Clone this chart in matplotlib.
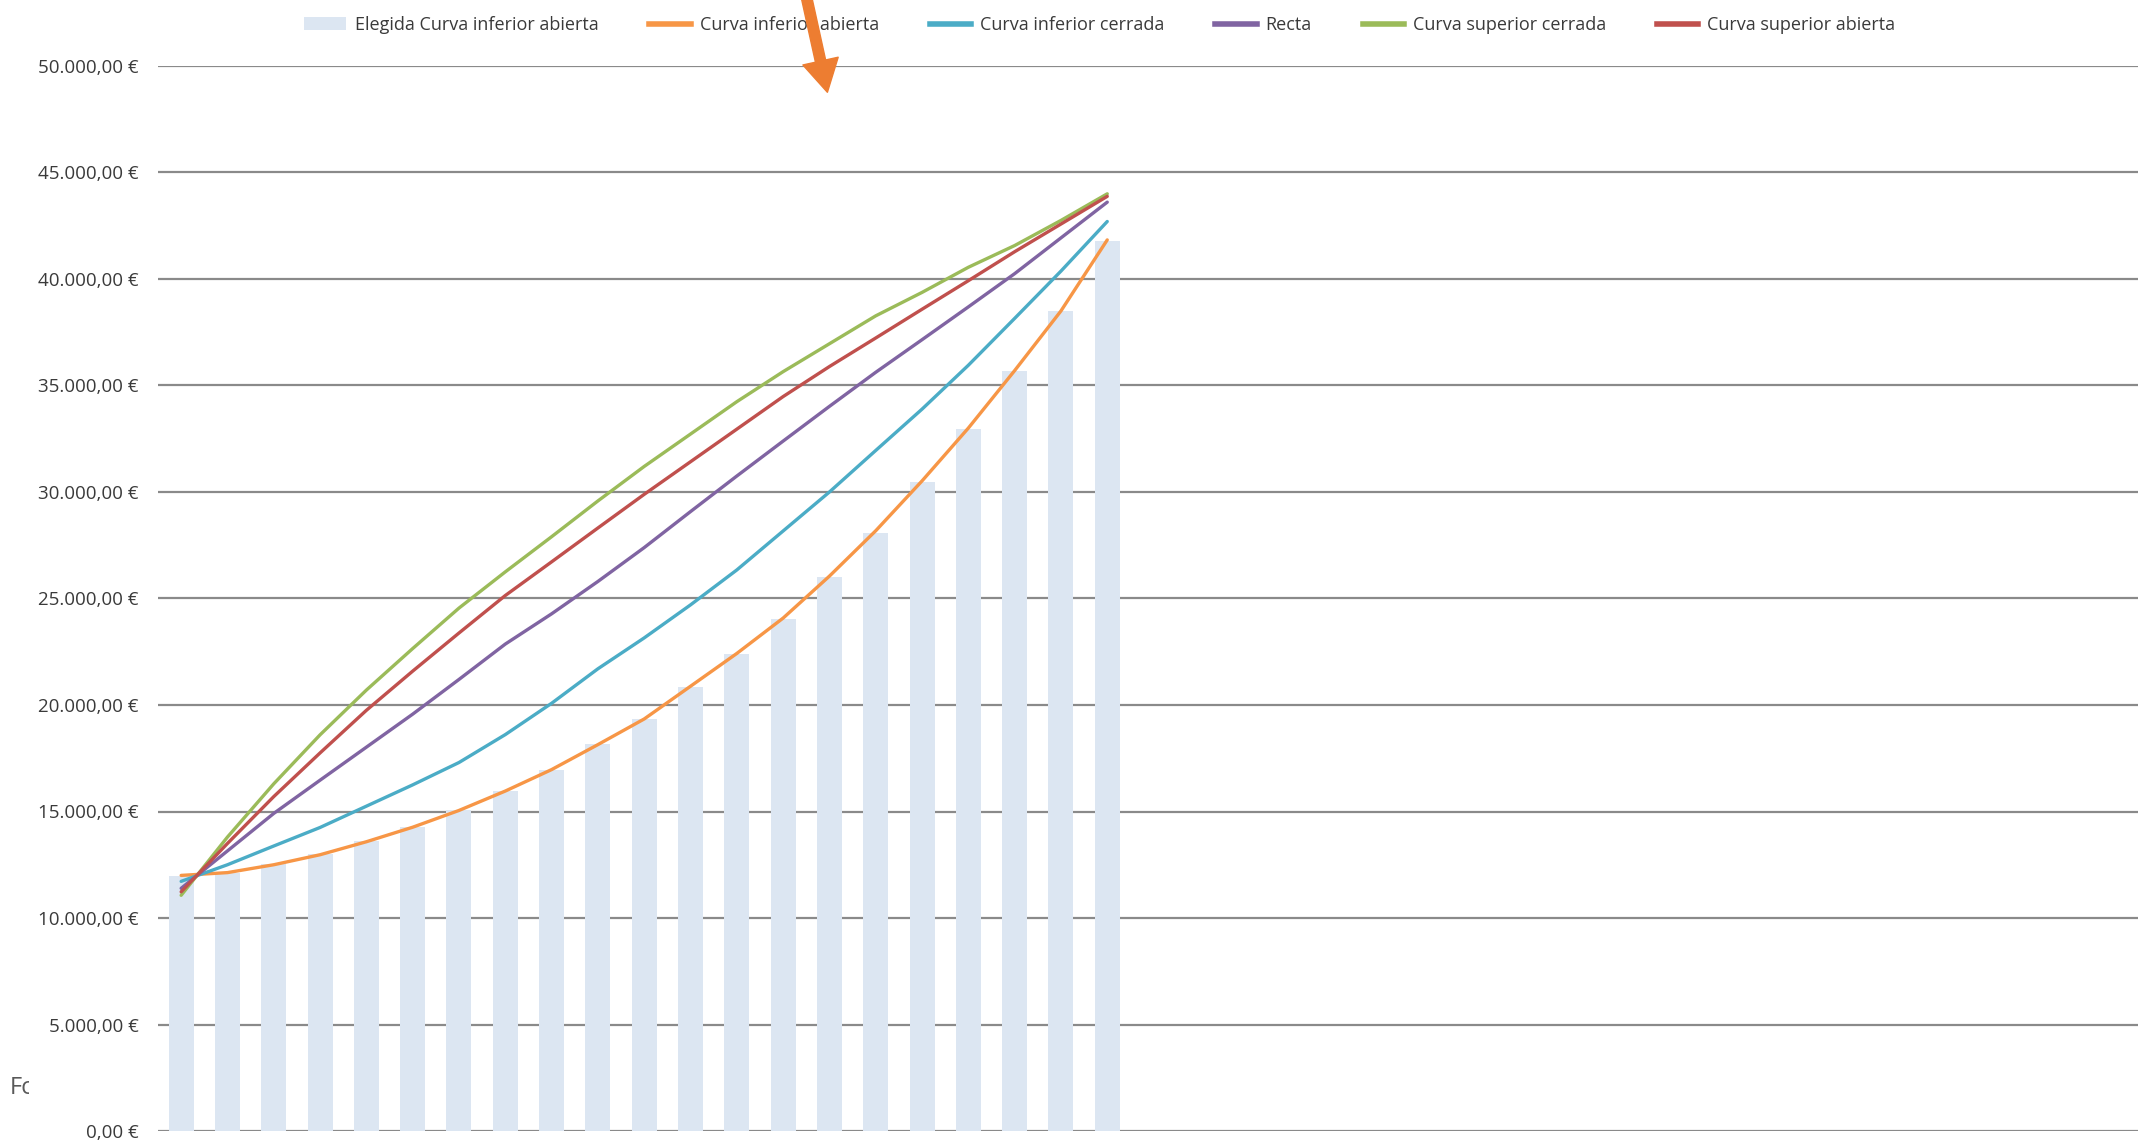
import matplotlib
matplotlib.use("Agg")
import matplotlib.pyplot as plt
from matplotlib.ticker import FuncFormatter, MultipleLocator
from matplotlib.patches import Patch, FancyArrowPatch
from matplotlib.lines import Line2D
from matplotlib.transforms import Bbox

plt.rcParams['font.family'] = ['Open Sans', 'DejaVu Sans']

# 21 tramos (años) con valores
tramos = list(range(21))
elegida = [11967, 12131, 12541, 12984, 13607, 14262, 15049, 15984, 16967, 18164, 19344,
           20852, 22377, 24057, 26022, 28066, 30472, 32956, 35692, 38506, 41761]
curva_inf_abierta = [12000, 12131, 12500, 12970, 13580, 14262, 15049, 15960, 16967, 18140, 19344,
                     20880, 22420, 24080, 26050, 28180, 30520, 33000, 35700, 38500, 41835]
curva_inf_cerrada = [11720, 12500, 13380, 14250, 15250, 16250, 17300, 18610, 20080, 21700, 23150,
                     24700, 26340, 28170, 30000, 31950, 33890, 35950, 38150, 40370, 42700]
recta = [11393, 13150, 14910, 16470, 18020, 19570, 21200, 22860, 24280, 25800, 27390,
         29080, 30750, 32390, 34020, 35620, 37150, 38690, 40250, 41930, 43608]
curva_sup_cerrada = [11066, 13800, 16300, 18600, 20700, 22650, 24550, 26250, 27900, 29580, 31200,
                     32720, 34240, 35650, 36960, 38270, 39370, 40550, 41570, 42750, 44000]
curva_sup_abierta = [11230, 13500, 15700, 17750, 19750, 21590, 23380, 25140, 26720, 28310, 29890,
                     31420, 32950, 34480, 35890, 37230, 38580, 39920, 41280, 42580, 43880]

series = [
    ("Curva inferior abierta", curva_inf_abierta, "#F79646"),
    ("Curva inferior cerrada", curva_inf_cerrada, "#4BACC6"),
    ("Recta", recta, "#8064A2"),
    ("Curva superior cerrada", curva_sup_cerrada, "#9BBB59"),
    ("Curva superior abierta", curva_sup_abierta, "#C0504D"),
]

W, H = 2138, 1144
fig = plt.figure(figsize=(W / 100, H / 100), dpi=100)
ax = fig.add_axes([158 / W, 13 / H, 1 - 158 / W, (1131 - 66) / H])

ax.bar(tramos, elegida, width=0.54, color="#DCE6F2", zorder=2)
for nombre, valores, color in series:
    ax.plot(tramos, valores, color=color, lw=2.4, zorder=3, solid_capstyle="round")

ax.set_ylim(0, 50000)
ax.set_xlim(-0.5, 42.26)
ax.yaxis.set_major_locator(MultipleLocator(5000))


def euros(v, pos):
    s = f"{v:,.2f}".replace(",", "X").replace(".", ",").replace("X", ".")
    return s + " €"


ax.yaxis.set_major_formatter(FuncFormatter(euros))
ax.grid(axis="y", color="#8a8a8a", lw=1.6, zorder=0)
ax.set_axisbelow(True)
ax.set_xticks([])
ax.tick_params(axis="y", length=0, pad=14, labelsize=13.5, labelcolor="#3a3a3a")
for s in ax.spines.values():
    s.set_visible(False)

handles = [Patch(facecolor="#DCE6F2", edgecolor="none")]
labels = ["Elegida Curva inferior abierta"]
for nombre, valores, color in series:
    handles.append(Line2D([], [], color=color, lw=4))
    labels.append(nombre)
fig.legend(handles, labels, loc="center", bbox_to_anchor=(0.5145, 1 - 25 / H), ncol=6,
           frameon=False, fontsize=13, handlelength=2.3, handletextpad=0.5,
           columnspacing=2.8, labelcolor="#3a3a3a")

flecha = FancyArrowPatch((806 / W, 1 + 5 / H), (828 / W, 1 - 95 / H), transform=fig.transFigure,
                         arrowstyle="simple,head_length=2.3,head_width=2.6,tail_width=0.75",
                         mutation_scale=10, color="#ED7D31", zorder=10)
fig.add_artist(flecha)

t = fig.text(10 / W, 1 - 1088 / H, "Fc", fontsize=17, color="#595959", va="center", ha="left")
t.set_clip_box(Bbox.from_extents(0, 0, 29, H))
t.set_clip_on(True)

fig.savefig("out.png", dpi=100)
